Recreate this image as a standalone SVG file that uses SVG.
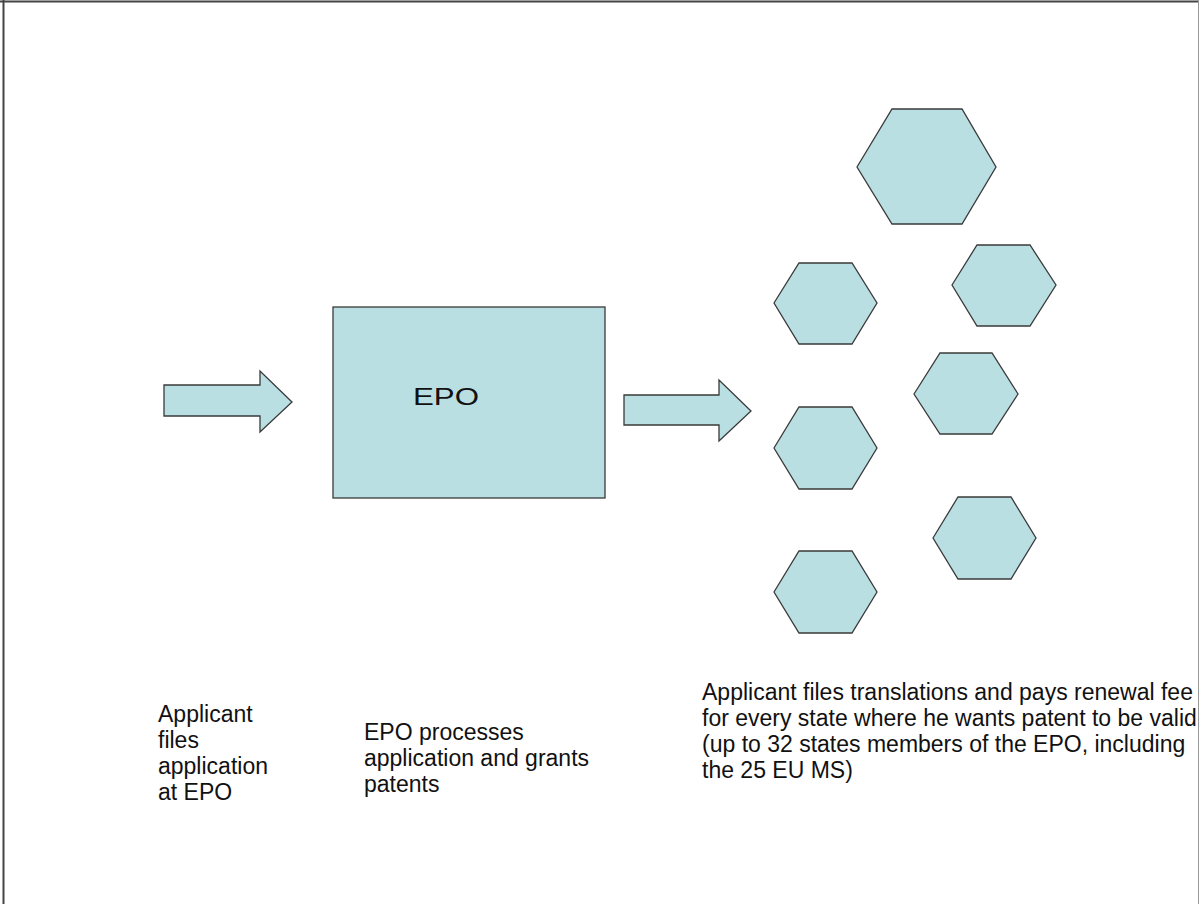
<svg xmlns="http://www.w3.org/2000/svg" width="1199" height="904" viewBox="0 0 1199 904">
<style>
.shape{fill:#b9dfe2;stroke:#3a3a3a;stroke-width:1.3;stroke-linejoin:miter}
.t{font-family:"Liberation Sans",Arial,sans-serif;font-size:23px;fill:#111}
.big{font-family:"Liberation Sans",Arial,sans-serif;font-size:24px;fill:#111}
</style>
<rect width="1199" height="904" fill="#fff"/>
<g id="frame">
<line x1="0" y1="1.5" x2="1199" y2="1.5" stroke="#444" stroke-width="2"/>
<line x1="3.5" y1="0" x2="3.5" y2="904" stroke="#444" stroke-width="2"/>
<line x1="1198.5" y1="0" x2="1198.5" y2="904" stroke="#999" stroke-width="1"/>
</g>
<g id="connectors">
<polygon id="arrow-in" class="shape" points="164,385 260,385 260,371 292,402 260,432 260,416 164,416"/>
<polygon id="arrow-out" class="shape" points="624,395 719,395 719,380 751,411 719,441 719,425 624,425"/>
</g>
<g id="epo">
<rect class="shape" x="333" y="307" width="272" height="191"/>
<text class="big" x="413" y="405" textLength="66" lengthAdjust="spacingAndGlyphs">EPO</text>
</g>
<g id="hex1"><polygon class="shape" points="857,167 892,109 962,109 996,167 962,224 892,224"/></g>
<g id="hex2"><polygon class="shape" points="774,303 799,263 852,263 877,303 852,344 799,344"/></g>
<g id="hex3"><polygon class="shape" points="952,285 977,245 1030,245 1056,285 1030,326 977,326"/></g>
<g id="hex4"><polygon class="shape" points="914,394 940,353 992,353 1018,394 992,434 940,434"/></g>
<g id="hex5"><polygon class="shape" points="774,448 799,407 852,407 877,448 852,489 799,489"/></g>
<g id="hex6"><polygon class="shape" points="933,538 958,497 1011,497 1036,538 1011,579 958,579"/></g>
<g id="hex7"><polygon class="shape" points="774,592 799,551 852,551 877,592 852,633 799,633"/></g>
<g id="label-file">
<text class="t" x="158" y="722">Applicant</text>
<text class="t" x="158" y="748">files</text>
<text class="t" x="158" y="774">application</text>
<text class="t" x="158" y="800">at EPO</text>
</g>
<g id="label-process">
<text class="t" x="364" y="740">EPO processes</text>
<text class="t" x="364" y="766">application and grants</text>
<text class="t" x="364" y="792">patents</text>
</g>
<g id="label-validate">
<text class="t" x="702" y="700">Applicant files translations and pays renewal fee</text>
<text class="t" x="702" y="726">for every state where he wants patent to be valid</text>
<text class="t" x="702" y="752">(up to 32 states members of the EPO, including</text>
<text class="t" x="702" y="778">the 25 EU MS)</text>
</g>
</svg>
